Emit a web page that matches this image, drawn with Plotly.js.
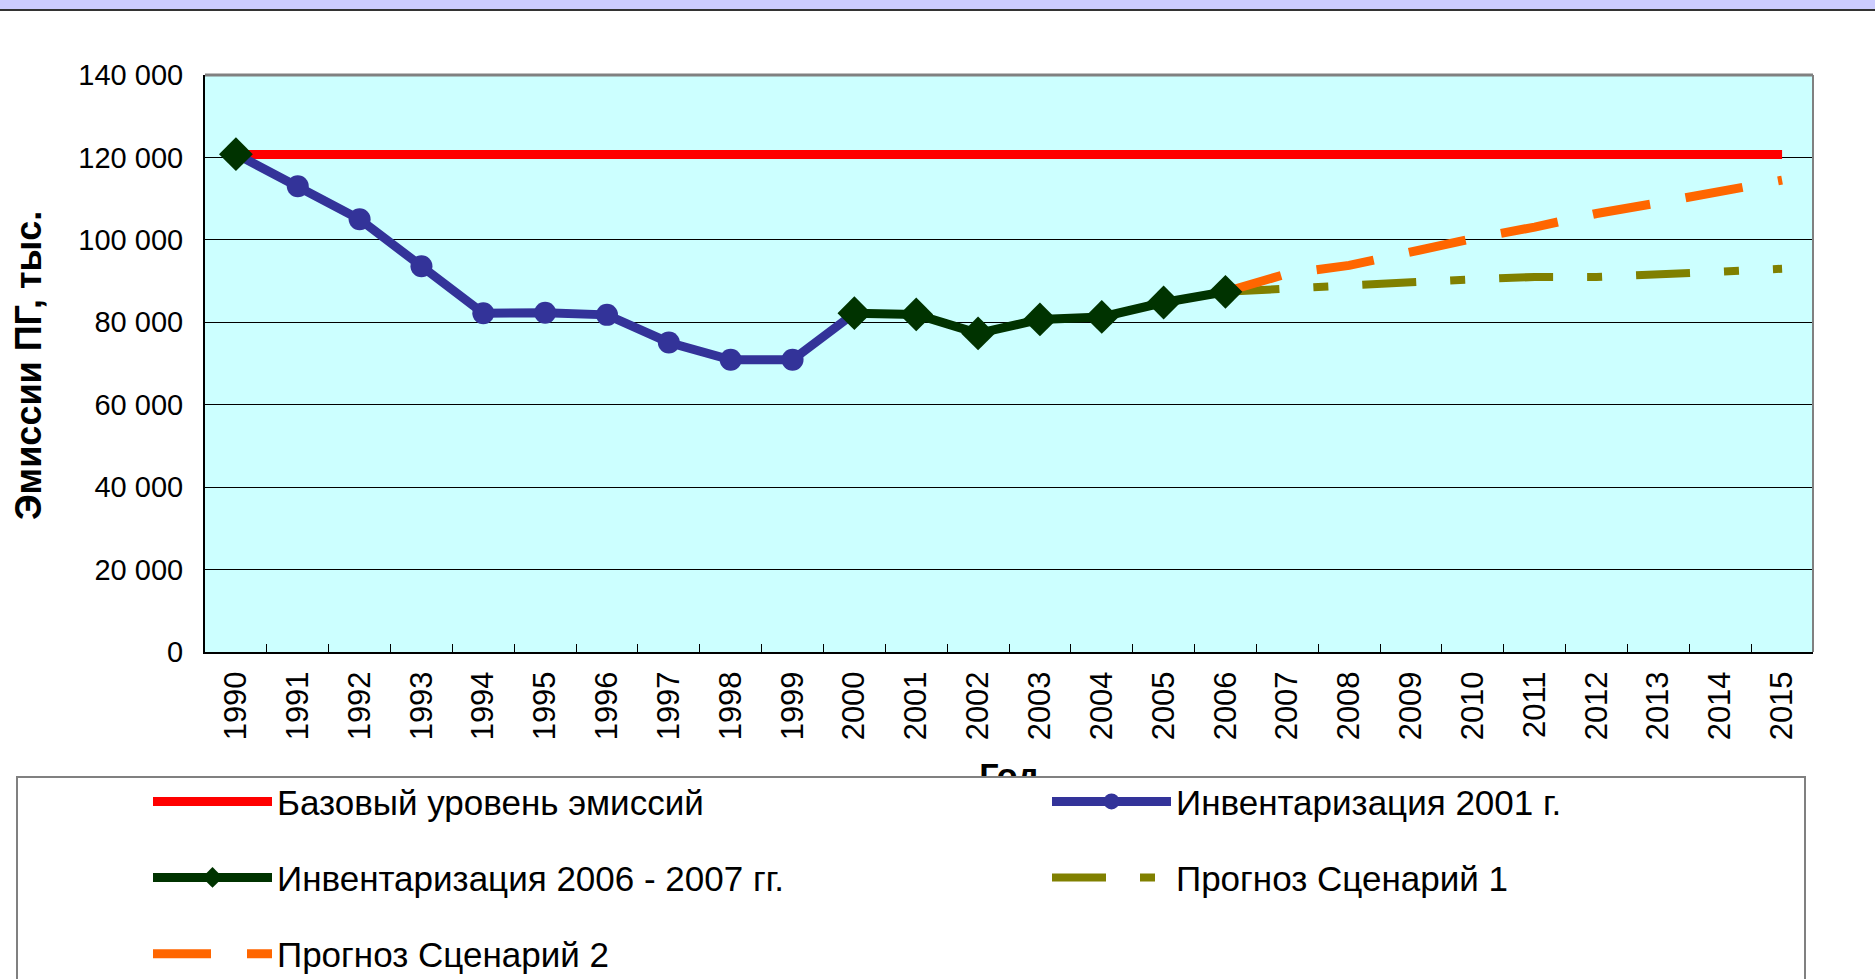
<!DOCTYPE html>
<html>
<head>
<meta charset="utf-8">
<script src="https://cdn.plot.ly/plotly-3.0.1.min.js"></script>
<style>html,body{margin:0;padding:0;background:#fff;}#chart{width:1875px;height:979px;}</style>
</head>
<body>
<div id="chart"></div>
<script>
// ---- data ----
const years = ['1990','1991','1992','1993','1994','1995','1996','1997','1998','1999','2000','2001','2002','2003','2004','2005','2006','2007','2008','2009','2010','2011','2012','2013','2014','2015'];
const baseLevel = [120700,120700,120700,120700,120700,120700,120700,120700,120700,120700,120700,120700,120700,120700,120700,120700,120700,120700,120700,120700,120700,120700,120700,120700,120700,120700];
const inv2001 = [120800,113000,105000,93600,82200,82300,81800,75100,70900,70900,82200,null,null,null,null,null,null,null,null,null,null,null,null,null,null,null];
const inv2006 = [120800,null,null,null,null,null,null,null,null,null,82200,81900,77300,80700,81300,84800,87400,null,null,null,null,null,null,null,null,null];
const scen1 = [null,null,null,null,null,null,null,null,null,null,null,null,null,null,null,null,87400,88300,89100,89700,90400,91000,91000,91500,92300,93000];
const scen2 = [null,null,null,null,null,null,null,null,null,null,null,null,null,null,null,null,87400,91800,93800,97100,100300,103100,106400,109000,112000,114500];
const yTicks = [0,20000,40000,60000,80000,100000,120000,140000];
const seriesNames = ['Базовый уровень эмиссий','Инвентаризация 2001 г.','Инвентаризация 2006 - 2007 гг.','Прогноз Сценарий 1','Прогноз Сценарий 2'];
const yTitle = 'Эмиссии ПГ, тыс.';
const xTitle = 'Год';

// ---- layout helpers ----
const W = 1875, H = 979;
const L = 205, R = 1813, T = 75, B = 652;
const px = x => (x - L) / (R - L);
const py = y => (B - y) / (B - T);
const FONT = 'Arial, "Liberation Sans", sans-serif';

const traces = [
  {x: years, y: baseLevel, name: seriesNames[0], type: 'scatter', mode: 'lines',
   line: {color: '#FF0000', width: 9}, legend: 'legend'},
  {x: years, y: scen1, name: seriesNames[3], type: 'scatter', mode: 'lines',
   line: {color: '#808000', width: 8, dash: '54px,34px,15px,34px'}, legend: 'legend4', connectgaps: false},
  {x: years, y: scen2, name: seriesNames[4], type: 'scatter', mode: 'lines',
   line: {color: '#FF6600', width: 9, dash: '58px,36px'}, legend: 'legend5', connectgaps: false},
  {x: years, y: inv2001, name: seriesNames[1], type: 'scatter', mode: 'lines+markers',
   line: {color: '#333399', width: 9}, marker: {symbol: 'circle', size: 22, color: '#333399'},
   legend: 'legend2', connectgaps: false},
  {x: years, y: inv2006, name: seriesNames[2], type: 'scatter', mode: 'lines+markers',
   line: {color: '#003300', width: 9}, marker: {symbol: 'diamond', size: 26, color: '#003300'},
   legend: 'legend3', connectgaps: false},
  // empty helper trace so the secondary x axis (carrying the axis title) is drawn
  {x: [], y: [], xaxis: 'x2', yaxis: 'y', type: 'scatter', mode: 'lines', showlegend: false, hoverinfo: 'skip'}
];

function legendCfg(xs, yc) {
  return {
    orientation: 'h', x: px(xs - 5), xanchor: 'left', y: py(yc), yanchor: 'middle',
    font: {family: FONT, size: 35, color: '#000'}, bgcolor: 'rgba(0,0,0,0)', borderwidth: 0,
    itemwidth: 119
  };
}

const layout = {
  width: W, height: H,
  margin: {l: L, r: W - R, t: T, b: H - B, pad: 0, autoexpand: false},
  paper_bgcolor: '#FFFFFF', plot_bgcolor: '#CCFFFF',
  separators: ', ',
  font: {family: FONT, color: '#000'},
  showlegend: true,
  xaxis: {
    type: 'category', categoryorder: 'array', categoryarray: years, range: [-0.5, 25.5],
    tickson: 'boundaries', ticks: 'inside', ticklen: 8, tickcolor: '#000', tickwidth: 1,
    showline: true, linecolor: '#000', linewidth: 2, showgrid: false, zeroline: false,
    tickangle: -90, tickfont: {family: FONT, size: 31, color: '#000'}, ticklabelstandoff: 5,
    fixedrange: true
  },
  xaxis2: {
    overlaying: 'x', anchor: 'y', side: 'bottom', range: [0, 1],
    tickmode: 'array', tickvals: [0.5], ticktext: [xTitle],
    ticks: '', showline: false, showgrid: false, zeroline: false,
    tickfont: {family: FONT, size: 34, color: '#000', weight: 'bold'}, ticklabelstandoff: 100,
    fixedrange: true
  },
  yaxis: {
    range: [0, 140000], tickmode: 'array', tickvals: yTicks,
    tickformat: ',d', ticks: 'inside', ticklen: 6, tickcolor: '#000',
    showline: true, linecolor: '#000', linewidth: 2,
    showgrid: true, gridcolor: '#000', gridwidth: 1, zeroline: false,
    tickfont: {family: FONT, size: 29, color: '#000'}, ticklabelstandoff: 14,
    fixedrange: true
  },
  legend: legendCfg(153, 801.7),
  legend2: legendCfg(1052, 801.7),
  legend3: legendCfg(153, 877.7),
  legend4: legendCfg(1052, 877.7),
  legend5: legendCfg(153, 954),
  shapes: [
    {type: 'line', xref: 'paper', yref: 'paper', x0: 0, x1: 1, y0: 1, y1: 1, line: {color: '#808080', width: 3}},
    {type: 'line', xref: 'paper', yref: 'paper', x0: 1, x1: 1, y0: 0, y1: 1, line: {color: '#808080', width: 2}},
    {type: 'rect', xref: 'paper', yref: 'paper', x0: px(0), x1: px(W), y0: py(9), y1: py(-2), fillcolor: '#CCCCFF', line: {width: 0}},
    {type: 'line', xref: 'paper', yref: 'paper', x0: px(0), x1: px(W), y0: py(10), y1: py(10), line: {color: '#333333', width: 2}},
    {type: 'rect', xref: 'paper', yref: 'paper', x0: px(17), x1: px(1805), y0: py(1000), y1: py(777), fillcolor: '#FFFFFF', line: {color: '#808080', width: 2}, layer: 'above'}
  ],
  annotations: [
    {text: '<b>' + yTitle + '</b>', xref: 'paper', yref: 'paper', x: px(28), y: py(366),
     xanchor: 'center', yanchor: 'middle', textangle: -90, showarrow: false,
     font: {family: FONT, size: 36, color: '#000'}}
  ]
};

Plotly.newPlot('chart', traces, layout, {staticPlot: true, displayModeBar: false});
</script>
</body>
</html>
